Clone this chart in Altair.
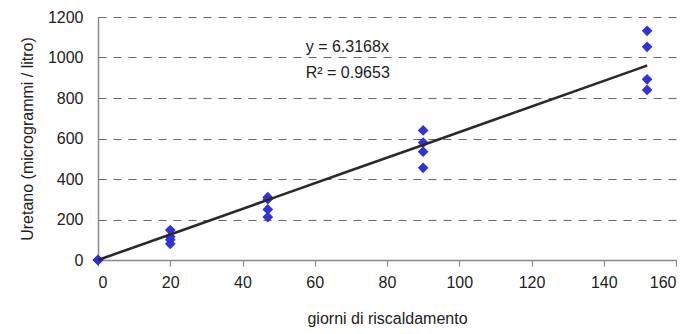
import altair as alt
import pandas as pd

# measured points (days of heating, urethane µg/l)
days = [0, 0, 0, 0,
        20, 20, 20, 20,
        47, 47, 47, 47,
        90, 90, 90, 90,
        152, 152, 152, 152]
urethane = [0, 0, 0, 0,
            148, 115, 100, 80,
            310, 300, 250, 212,
            640, 580, 535, 455,
            1132, 1053, 892, 840]

# trend line values (y = 6.3168x) at the measured days
trend_days = [0, 20, 47, 90, 152]
trend_vals = [0, 126, 297, 568, 960]

eq_labels = ["y = 6.3168x", "R² = 0.9653"]
eq_x = [57.5, 57.5]
eq_y = [1052, 923]

FONT = "Liberation Sans"

pts = pd.DataFrame({"x": days, "y": urethane})
trend = pd.DataFrame({"x": trend_days, "y": trend_vals})
eq = pd.DataFrame({"t": eq_labels, "x": eq_x, "y": eq_y})

xscale = alt.Scale(domain=[0, 160], nice=False, zero=True)
yscale = alt.Scale(domain=[0, 1200], nice=False)

xaxis = alt.Axis(values=list(range(0, 161, 20)), format="d", grid=False, domain=True,
                 domainColor="#888888", domainWidth=1.5, tickColor="#888888",
                 tickSize=6, tickWidth=1.2, labelFont=FONT, labelFontSize=16,
                 labelColor="#222222", labelPadding=8, title="giorni di riscaldamento",
                 titleFont=FONT, titleFontSize=16, titleFontWeight="normal",
                 titleColor="#222222", titlePadding=20)
yaxis = alt.Axis(values=list(range(0, 1201, 200)), format="d", grid=True, gridDash=[8, 7],
                 gridColor="#666666", gridWidth=1.2, domain=True,
                 domainColor="#888888", domainWidth=1.5, ticks=False,
                 labelFont=FONT, labelFontSize=16, labelColor="#222222",
                 labelPadding=15, title="Uretano (microgrammi / litro)",
                 titleFont=FONT, titleFontSize=16, titleFontWeight="normal",
                 titleColor="#222222", titlePadding=12)

points = alt.Chart(pts).mark_point(shape="diamond", filled=True, size=115,
                                   color="#3232DC", opacity=1).encode(
    x=alt.X("x:Q", scale=xscale, axis=xaxis),
    y=alt.Y("y:Q", scale=yscale, axis=yaxis),
)

line = alt.Chart(trend).mark_line(color="#2a2a2a", strokeWidth=2.6,
                                  interpolate="monotone").encode(
    x=alt.X("x:Q", scale=xscale),
    y=alt.Y("y:Q", scale=yscale),
)

text = alt.Chart(eq).mark_text(font=FONT, fontSize=16, align="left",
                               baseline="middle", color="#222222").encode(
    x=alt.X("x:Q", scale=xscale),
    y=alt.Y("y:Q", scale=yscale),
    text="t:N",
)

chart = alt.layer(points, line, text).properties(
    width=578, height=243,
    autosize=alt.AutoSizeParams(type="none"),
    padding={"left": 98, "top": 17, "right": 15, "bottom": 74},
    background="white",
).configure_view(stroke=None)

chart.save("out.html", embed_options={"renderer": "svg", "actions": False})
